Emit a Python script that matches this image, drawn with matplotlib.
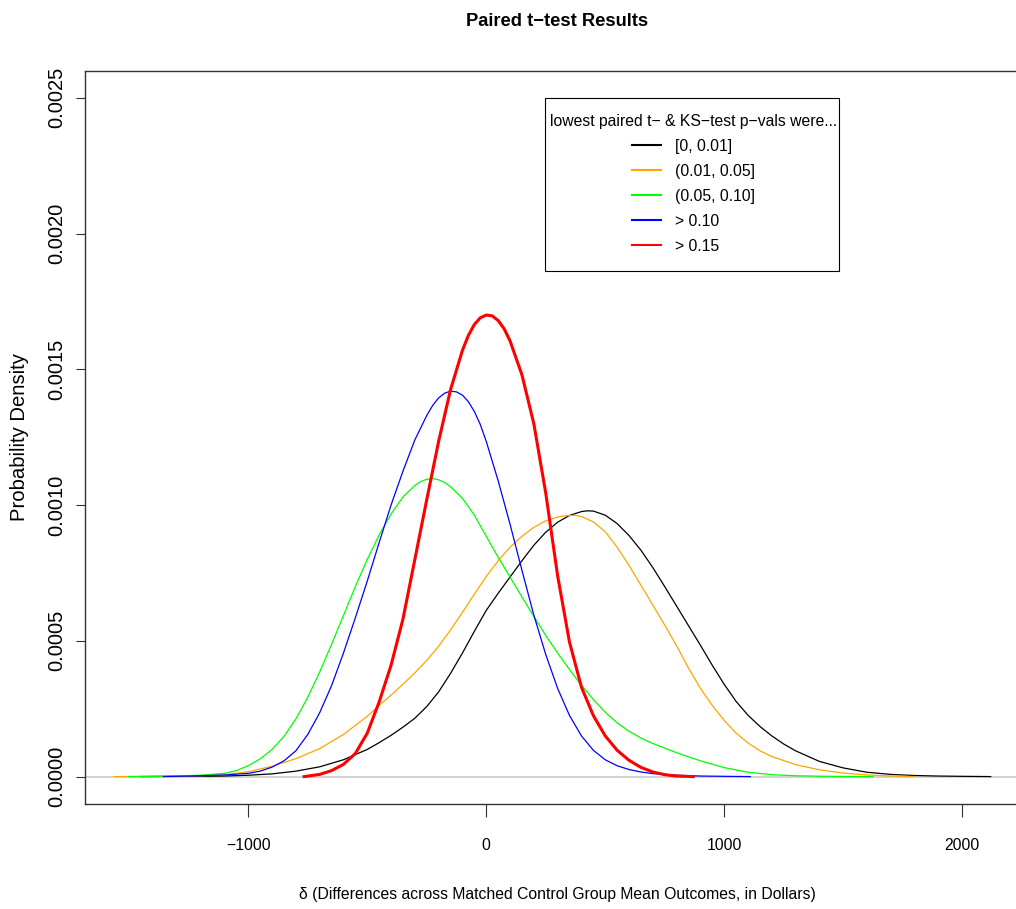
import matplotlib
matplotlib.use('Agg')
import matplotlib.pyplot as plt
from matplotlib.lines import Line2D
from matplotlib.patches import Rectangle

plt.rcParams['font.family'] = ['Liberation Sans', 'DejaVu Sans']

# density estimates: x in dollars, y in units of 1e-3
dens_scale = 1e-3

black_x = [-1450, -1300, -1200, -1100, -1000, -900, -800, -700, -600, -500,
           -450, -400, -350, -300, -250, -200, -150, -100, -50, 0,
           50, 100, 150, 200, 250, 300, 350, 400, 425, 450,
           500, 550, 600, 650, 700, 750, 800, 850, 900, 950,
           1000, 1050, 1100, 1150, 1200, 1250, 1300, 1400, 1500, 1600,
           1700, 1800, 1900, 2000, 2120]
black_y = [0.000, 0.001, 0.001, 0.002, 0.005, 0.010, 0.020, 0.036, 0.062, 0.100,
           0.125, 0.152, 0.182, 0.215, 0.258, 0.312, 0.380, 0.455, 0.535, 0.612,
           0.675, 0.735, 0.795, 0.852, 0.900, 0.937, 0.962, 0.976, 0.979, 0.978,
           0.963, 0.932, 0.888, 0.834, 0.770, 0.700, 0.628, 0.556, 0.484, 0.410,
           0.340, 0.277, 0.226, 0.185, 0.150, 0.120, 0.095, 0.056, 0.032, 0.016,
           0.008, 0.004, 0.002, 0.001, 0.000]

orange_x = [-1563, -1400, -1300, -1200, -1100, -1000, -900, -800, -700, -600,
            -500, -450, -400, -350, -300, -250, -200, -150, -100, -50,
            0, 50, 100, 150, 200, 250, 300, 325, 350, 375,
            400, 450, 500, 550, 600, 650, 700, 750, 800, 850,
            900, 950, 1000, 1050, 1100, 1150, 1200, 1300, 1400, 1500,
            1600, 1700, 1800]
orange_y = [0.000, 0.001, 0.002, 0.003, 0.007, 0.018, 0.038, 0.066, 0.103, 0.155,
            0.222, 0.262, 0.300, 0.340, 0.382, 0.428, 0.480, 0.540, 0.605, 0.672,
            0.737, 0.795, 0.845, 0.885, 0.918, 0.942, 0.956, 0.960, 0.962, 0.962,
            0.958, 0.938, 0.902, 0.845, 0.778, 0.705, 0.632, 0.558, 0.482, 0.400,
            0.325, 0.262, 0.207, 0.160, 0.124, 0.095, 0.074, 0.044, 0.025, 0.013,
            0.006, 0.002, 0.000]

green_x = [-1504, -1400, -1300, -1200, -1100, -1050, -1000, -950, -900, -850,
           -800, -750, -700, -650, -600, -550, -500, -450, -400, -350,
           -300, -275, -250, -225, -200, -175, -150, -100, -50, 0,
           50, 100, 150, 200, 250, 300, 350, 400, 450, 500,
           550, 600, 650, 700, 800, 900, 1000, 1100, 1200, 1300,
           1400, 1500, 1625]
green_y = [0.000, 0.001, 0.002, 0.005, 0.012, 0.022, 0.040, 0.065, 0.100, 0.148,
           0.212, 0.292, 0.385, 0.487, 0.593, 0.700, 0.800, 0.890, 0.967, 1.030,
           1.072, 1.087, 1.095, 1.098, 1.093, 1.083, 1.068, 1.025, 0.963, 0.885,
           0.808, 0.735, 0.662, 0.590, 0.520, 0.455, 0.394, 0.337, 0.284, 0.237,
           0.198, 0.167, 0.142, 0.122, 0.088, 0.058, 0.033, 0.016, 0.007, 0.003,
           0.0015, 0.0005, 0.000]

blue_x = [-1357, -1300, -1200, -1100, -1000, -950, -900, -850, -800, -750,
          -700, -650, -600, -550, -500, -450, -400, -350, -300, -250,
          -225, -200, -175, -150, -125, -100, -75, -50, -25, 0,
          50, 100, 150, 200, 250, 300, 350, 400, 450, 500,
          550, 600, 650, 700, 800, 900, 1000, 1110]
blue_y = [0.000, 0.001, 0.003, 0.006, 0.012, 0.020, 0.035, 0.058, 0.095, 0.155,
          0.235, 0.335, 0.455, 0.585, 0.720, 0.862, 1.000, 1.125, 1.240, 1.330,
          1.367, 1.395, 1.412, 1.420, 1.417, 1.405, 1.381, 1.345, 1.297, 1.235,
          1.090, 0.930, 0.760, 0.595, 0.450, 0.325, 0.225, 0.150, 0.097, 0.062,
          0.040, 0.026, 0.017, 0.011, 0.005, 0.002, 0.001, 0.000]

red_x = [-765, -700, -650, -600, -550, -500, -450, -400, -350, -300,
         -250, -200, -150, -100, -75, -50, -25, 0, 25, 50,
         75, 100, 150, 200, 250, 300, 350, 400, 450, 500,
         550, 600, 650, 700, 750, 800, 870]
red_y = [0.000, 0.008, 0.022, 0.045, 0.085, 0.160, 0.275, 0.410, 0.580, 0.800,
         1.020, 1.235, 1.425, 1.570, 1.625, 1.665, 1.690, 1.700, 1.697, 1.680,
         1.650, 1.605, 1.480, 1.300, 1.045, 0.740, 0.495, 0.330, 0.225, 0.150,
         0.097, 0.060, 0.034, 0.017, 0.007, 0.002, 0.000]

series_x = [black_x, orange_x, green_x, blue_x, red_x]
series_y = [black_y, orange_y, green_y, blue_y, red_y]
series_colors = ['black', 'orange', '#00FF00', 'blue', 'red']
series_labels = ['[0, 0.01]', '(0.01, 0.05]', '(0.05, 0.10]', '> 0.10', '> 0.15']

x_ticks = [-1000, 0, 1000, 2000]
y_ticks = [0.0, 0.0005, 0.0010, 0.0015, 0.0020, 0.0025]
y_ticklabels = ['0.0000', '0.0005', '0.0010', '0.0015', '0.0020', '0.0025']

fig = plt.figure(figsize=(10.16, 9.09), dpi=100)
ax = fig.add_axes([0.0837, 0.1158, 0.9291, 0.8064])

ax.axhline(0, color='#D3D3D3', lw=1.4, zorder=1)
for i in range(len(series_x)):
    xs = series_x[i]
    ys = [v * dens_scale for v in series_y[i]]
    lw = 2.2 if series_colors[i] == 'red' else 0.9
    ax.plot(xs, ys, color=series_colors[i], lw=lw, zorder=2 + i,
            solid_joinstyle='round')

ax.set_xlim(-1686, 2281)
ax.set_ylim(-0.0001, 0.0026)

ax.set_xticks(x_ticks)
ax.set_yticks(y_ticks)
ax.set_yticklabels(y_ticklabels, rotation=90, va='center', fontsize=14.5)
ax.tick_params(direction='out', width=0.8, color='#333333')
ax.tick_params(axis='x', length=9, pad=16, labelsize=11.3)
ax.tick_params(axis='y', length=6.5, pad=7)
for s in ['left', 'bottom', 'top', 'right']:
    ax.spines[s].set_linewidth(1.0)
    ax.spines[s].set_color('#333333')

ax.set_xlabel('\u03b4 (Differences across Matched Control Group Mean Outcomes, in Dollars)', fontsize=11.3)
ax.xaxis.set_label_coords(0.5, -0.1235)
ax.xaxis.label.set_va('center')
ax.set_ylabel('Probability Density', fontsize=14.6)
ax.yaxis.set_label_coords(-0.0699, 0.5)
ax.yaxis.label.set_va('center')

ax.text(0.5, 1.0665, 'Paired t\u2212test Results', transform=ax.transAxes,
        ha='center', va='center', fontsize=13.2, fontweight='bold')

# legend frame drawn separately so its size can follow the reference
ax.add_patch(Rectangle((0.4873, 0.7272), 0.3114, 0.2360, transform=ax.transAxes,
                       facecolor='white', edgecolor='black', lw=0.8, zorder=9))
handles = [Line2D([0], [0], color=c, lw=1.5) for c in series_colors]
leg = ax.legend(handles, series_labels,
                title='lowest paired t\u2212 & KS\u2212test p\u2212vals were...',
                loc='upper center', bbox_to_anchor=(0.6445, 0.9612),
                frameon=False, fontsize=11.3, title_fontsize=11.3,
                handlelength=1.85, handletextpad=0.85, labelspacing=0.64,
                borderpad=0.93, borderaxespad=0)
leg.set_zorder(10)

fig.savefig('out.png', dpi=100)
